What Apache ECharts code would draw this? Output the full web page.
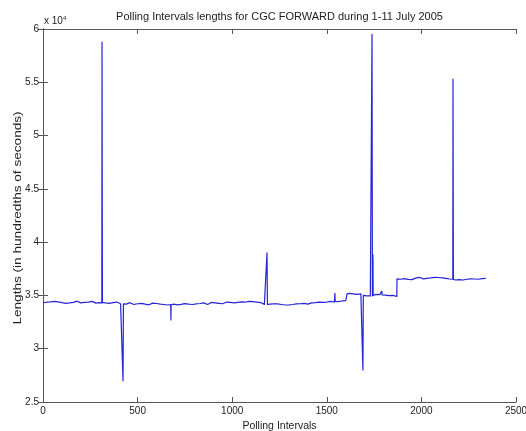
<!DOCTYPE html>
<html>
<head>
<meta charset="utf-8">
<script src="https://cdn.jsdelivr.net/npm/echarts@6/dist/echarts.min.js"></script>
<style>
html,body{margin:0;padding:0;background:#fff;}
#chart{width:526px;height:431px;}
</style>
</head>
<body>
<div id="chart"></div>
<script>
// Polling interval index
var intervals = [
  0,10,20,30,40,50,60,70,80,90,100,110,120,130,140,150,160,170,180,190,200,210,220,230,240,250,260,270,280,290,300,
  311,312,313,314,
  320,330,340,350,360,370,380,390,400,410,420,
  422,423,424,425,
  430,440,450,460,470,480,490,500,510,520,530,540,550,560,570,580,590,600,610,620,630,640,650,660,670,
  675,676,677,
  680,690,700,710,720,730,740,750,760,770,780,790,800,810,820,830,840,850,860,870,880,890,900,910,920,930,940,950,
  960,970,980,990,1000,1010,1020,1030,1040,1050,1060,1070,1080,1090,1100,1110,1120,1130,1140,1150,1160,1170,1180,
  1183,1184,1185,1186,
  1190,1200,1210,1220,1230,1240,1250,1260,1270,1280,1290,1300,1310,1320,1330,1340,1350,1360,1370,1380,1390,1400,
  1410,1420,1430,1440,1450,1460,1470,1480,1490,1500,1510,1520,1530,1540,
  1542,1543,1544,
  1550,1560,1570,1580,1590,1600,1606,
  1607,1610,1620,1630,1640,1650,1660,1670,1680,1690,
  1691,1692,1693,
  1700,1710,1720,1730,1738,
  1739,1740,1741,1743,1744,1745,
  1750,1760,1770,1780,1790,
  1791,1792,
  1800,1810,1820,1830,1840,1850,1860,1870,
  1871,1880,1890,1900,1910,1920,1930,1940,1950,1960,1970,1980,1990,2000,2010,2020,2030,2040,2050,2060,2070,2080,
  2090,2100,2110,2120,2130,2140,2150,2160,2166,
  2167,2168,2169,
  2180,2190,2200,2210,2220,2230,2240,2250,2260,2270,2280,2290,2300,2310,2320,2330,2340
];
// Interval lengths, in hundredths of seconds
var lengths = [
  34300,34420,34380,34250,34400,34330,34450,34280,34400,34480,34320,34410,34260,34390,34300,34440,34350,34280,34460,34380,34300,34420,34340,34250,34380,34310,34440,34360,34280,34400,34330,
  34300,58770,46700,34350,
  34420,34300,34380,34260,34400,34330,34250,34380,34300,34220,34280,
  34250,27000,30500,34200,
  34300,34180,34260,34320,34200,34150,34280,34220,34140,34250,34300,34180,34260,34120,34220,34280,34160,34240,34300,34180,34250,34150,34220,34100,34200,
  34150,32700,34100,
  34080,34180,34220,34120,34250,34160,34100,34230,34300,34180,34250,34150,34280,34200,34320,34240,34180,34300,34220,34150,34280,34340,34230,34300,34180,34260,34320,34220,
  34300,34380,34260,34340,34420,34300,34460,34350,34280,34400,34480,34380,34300,34450,34360,34420,34300,34380,34250,34330,34220,34160,34200,
  34180,39000,36600,34150,
  34250,34180,34300,34220,34120,34200,34080,34150,34050,34100,34020,34120,34060,34150,34100,34200,34140,34220,34160,34250,34200,34180,
  34260,34300,34220,34320,34260,34380,34300,34350,34420,34380,34320,34450,34400,34380,
  34400,35200,34450,
  34480,34420,34520,34480,34560,34500,34540,
  35150,35100,35200,35080,35150,35250,35100,35050,35150,35000,
  28000,31700,35000,
  34900,34950,34880,34950,34920,
  59500,47100,34950,35050,38800,35000,
  35050,35100,35000,35080,35100,
  35400,35050,
  35100,35020,35080,34980,35050,35000,34950,34900,
  36550,36600,36520,36650,36580,36620,36500,36600,36480,36550,36620,36580,36700,36620,36550,36680,36600,36720,36640,36580,36700,36620,
  36680,36560,36650,36720,36600,36660,36540,36600,36520,
  55300,46000,36500,
  36450,36520,36480,36550,36450,36500,36520,36480,36560,36500,36540,36580,36520,36600,36580,36620,36600
];
// Axis ticks
var xTicks = {min: 0, max: 2500, interval: 500};
var yTicks = {min: 25000, max: 60000, interval: 5000};

var data = intervals.map(function (x, i) { return [x, lengths[i]]; });

var chart = echarts.init(document.getElementById('chart'), null, {renderer: 'canvas'});
var axisColor = '#555';
var txt = {color: '#222', fontFamily: 'Liberation Sans', fontSize: 10};
function yFmt(v) { return String(+(v / 10000).toFixed(1)); }
function xFmt(v) { return String(v); }

chart.setOption({
  animation: false,
  backgroundColor: '#fff',
  title: {
    text: 'Polling Intervals lengths for CGC FORWARD during 1-11 July 2005',
    left: 274.5, top: 6, textAlign: 'center',
    textStyle: {fontFamily: 'Liberation Sans', fontSize: 11, fontWeight: 'normal', color: '#222'}
  },
  grid: {left: 43, right: 10, top: 29, bottom: 29, containLabel: false, outerBoundsMode: 'none'},
  xAxis: [{
    type: 'value', position: 'bottom', min: xTicks.min, max: xTicks.max, interval: xTicks.interval,
    axisLine: {show: true, lineStyle: {color: axisColor, width: 1}},
    axisTick: {show: true, inside: true, length: 5, lineStyle: {color: axisColor}},
    axisLabel: Object.assign({margin: 4, formatter: xFmt}, txt),
    splitLine: {show: false},
    name: 'Polling Intervals', nameLocation: 'middle', nameGap: 18,
    nameTextStyle: {color: '#222', fontFamily: 'Liberation Sans', fontSize: 10.5}
  }, {
    type: 'value', position: 'top', min: xTicks.min, max: xTicks.max, interval: xTicks.interval,
    axisLine: {show: true, lineStyle: {color: axisColor, width: 1}},
    axisTick: {show: true, inside: true, length: 5, lineStyle: {color: axisColor}},
    axisLabel: {show: false}, splitLine: {show: false}
  }],
  yAxis: [{
    type: 'value', position: 'left', min: yTicks.min, max: yTicks.max, interval: yTicks.interval,
    axisLine: {show: true, lineStyle: {color: axisColor, width: 1}},
    axisTick: {show: true, inside: true, length: 5, lineStyle: {color: axisColor}},
    axisLabel: Object.assign({margin: 4, formatter: yFmt}, txt),
    splitLine: {show: false}
  }, {
    type: 'value', position: 'right', min: yTicks.min, max: yTicks.max, interval: yTicks.interval,
    axisLine: {show: true, lineStyle: {color: axisColor, width: 1}},
    axisTick: {show: true, inside: true, length: 5, lineStyle: {color: axisColor}},
    axisLabel: {show: false}, splitLine: {show: false}
  }],
  graphic: [{
    type: 'text', left: 44, top: 15,
    style: {
      text: '{a|x 10}{b|4}',
      rich: {
        a: {fontFamily: 'Liberation Sans', fontSize: 10, fill: '#222'},
        b: {fontFamily: 'Liberation Sans', fontSize: 6, fill: '#222', verticalAlign: 'top', padding: [0, 0, 6, 0]}
      }
    }
  }, {
    type: 'text', x: 18, y: 218, rotation: Math.PI / 2, scaleX: 1.36,
    style: {
      text: 'Lengths (in hundredths of seconds)',
      fontFamily: 'Liberation Sans', fontSize: 10, fill: '#222',
      align: 'center', verticalAlign: 'middle',
      textAlign: 'center', textVerticalAlign: 'middle'
    }
  }],
  series: [{
    type: 'line', xAxisIndex: 0, yAxisIndex: 0,
    data: data, showSymbol: false, symbol: 'none', sampling: null,
    lineStyle: {color: '#2424d8', width: 1.2, join: 'round'}
  }]
});
</script>
</body>
</html>
